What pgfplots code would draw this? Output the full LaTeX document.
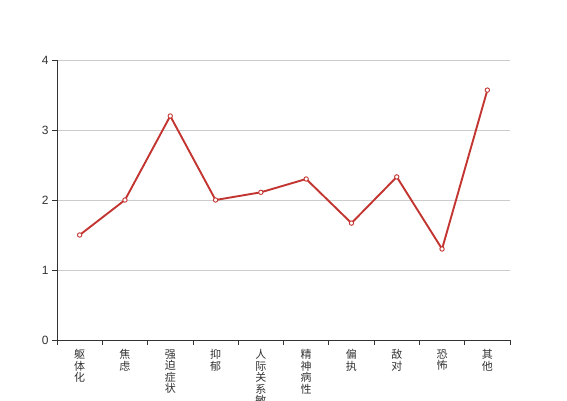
\documentclass[border=0pt]{standalone}
\usepackage{pgfplots}
\pgfplotsset{compat=1.18}
\usepackage{fontspec}
\setmainfont{Liberation Sans}
\newfontfamily\cjk{Noto Sans CJK SC}
\definecolor{linered}{HTML}{C23531}
\definecolor{axisgray}{HTML}{333333}
\definecolor{gridgray}{HTML}{CCCCCC}
\begin{document}
\begin{tikzpicture}[x=1pt,y=1pt]
\useasboundingbox (-57,-60) rectangle (510,340);
\clip (-57,-60) rectangle (510,340);
\begin{axis}[
  at={(0,0)}, anchor=south west,
  scale only axis, width=453pt, height=280pt,
  xmin=-0.5, xmax=9.5, ymin=0, ymax=4,
  axis x line=bottom, axis y line=left,
  axis line style={-, axisgray, line width=0.8pt},
  xtick={0,...,9},
  xticklabels={{躯\\体\\化},{焦\\虑},{强\\迫\\症\\状},{抑\\郁},{人\\际\\关\\系\\敏\\感},{精\\神\\病\\性},{偏\\执},{敌\\对},{恐\\怖},{其\\他}},
  minor xtick={-0.5,0.5,...,9.5},
  major x tick style={draw=none},
  minor tick length=5pt,
  major tick length=5pt,
  tick align=outside,
  tick style={axisgray, line width=0.8pt},
  ytick={0,1,2,3,4},
  ymajorgrids,
  grid style={gridgray, line width=0.6pt},
  xticklabel style={align=center, font=\cjk\fontsize{11}{11.5}\selectfont, text=axisgray, anchor=north, yshift=-1pt},
  yticklabel style={font=\fontsize{12}{14}\selectfont, text=axisgray},
  /pgf/number format/assume math mode=true,
  clip=false,
]
\addplot[color=linered, line width=1.9pt, mark=*, mark size=2.2pt,
  mark options={fill=white, draw=linered, line width=0.9pt}]
  coordinates {(0,1.5) (1,2.0) (2,3.2) (3,2.0) (4,2.11) (5,2.3) (6,1.67) (7,2.33) (8,1.3) (9,3.57)};
\end{axis}
\end{tikzpicture}
\end{document}
